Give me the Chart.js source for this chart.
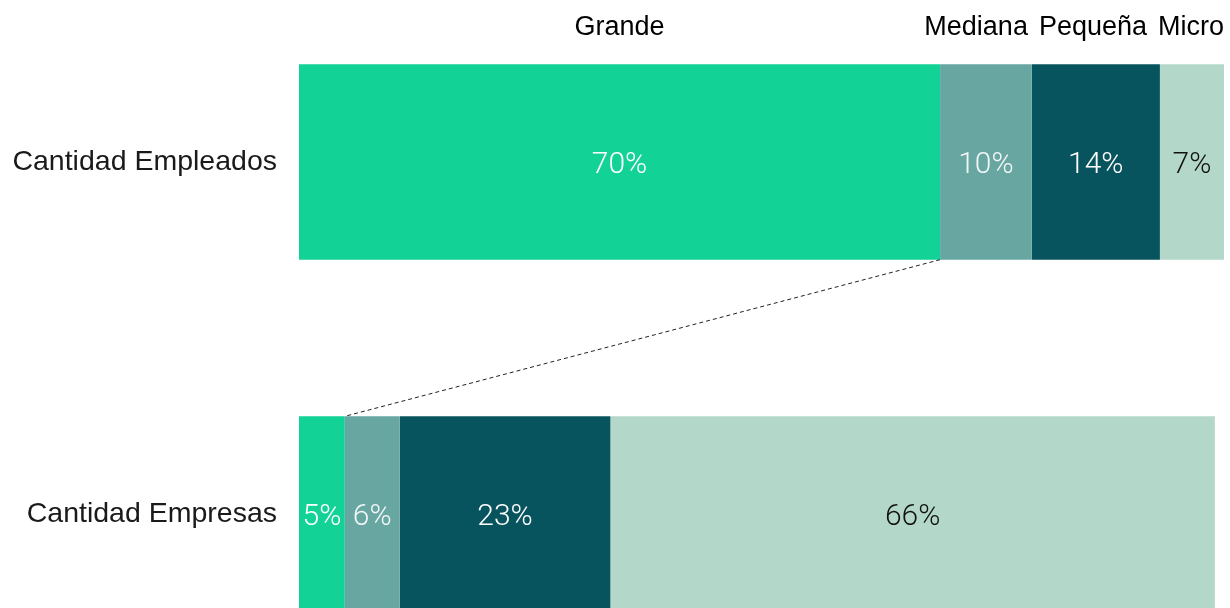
<!DOCTYPE html>
<html>
<head>
<meta charset="utf-8">
<script src="https://cdn.jsdelivr.net/npm/chart.js@4"></script>
<style>
    body { margin: 0; background: #fff; overflow: hidden; }
    #wrap { position: absolute; left: 0; top: -14px; width: 1230px; height: 704px; }
</style>
</head>
<body>
<div id="wrap"><canvas id="mainChartCanvas"></canvas></div>
<script>
// categories and series
const categorias = ['Cantidad Empleados', 'Cantidad Empresas'];
const grande = [70, 5];
const mediana = [10, 6];
const pequena = [14, 23];
const micro = [7, 66];

const nombres = ['Grande', 'Mediana', 'Pequeña', 'Micro'];
const colores = ['#13d296', '#68a6a2', '#08545e', '#b3d8ca'];
const coloresTexto = ['#ffffff', '#f2f6f6', '#ffffff', '#111111'];

// max of the stacked totals, so the longest bar fills the width
const totales = categorias.map((c, i) => grande[i] + mediana[i] + pequena[i] + micro[i]);
const maxTotal = Math.max(...totales);

const series = [grande, mediana, pequena, micro];

const mainChartData = {
    labels: categorias,
    datasets: series.map((s, i) => ({
        label: nombres[i],
        data: s,
        backgroundColor: colores[i],
        borderWidth: 0,
        barPercentage: 0.555,
        categoryPercentage: 1
    }))
};

// percentage text inside each segment
const segmentLabels = {
    id: 'segmentLabels',
    afterDatasetsDraw(chart) {
        const ctx = chart.ctx;
        ctx.save();
        ctx.font = '300 30px Roboto, "Liberation Sans", sans-serif';
        ctx.textAlign = 'center';
        ctx.textBaseline = 'middle';
        chart.data.datasets.forEach((ds, i) => {
            chart.getDatasetMeta(i).data.forEach((bar, j) => {
                const cx = (bar.x + bar.base) / 2;
                ctx.fillStyle = coloresTexto[i];
                ctx.fillText(ds.data[j] + '%', cx, bar.y + 3);
            });
        });
        ctx.restore();
    }
};

// series names above the first bar, pushed apart so they do not overlap
const topNames = {
    id: 'topNames',
    afterDraw(chart) {
        const ctx = chart.ctx;
        ctx.save();
        ctx.font = '27px "Liberation Sans", Arial, sans-serif';
        ctx.fillStyle = '#000';
        ctx.textAlign = 'left';
        ctx.textBaseline = 'middle';
        const gap = 11;
        const items = chart.data.datasets.map((ds, i) => {
            const bar = chart.getDatasetMeta(i).data[0];
            const w = ctx.measureText(ds.label).width;
            return { text: ds.label, w: w, x: (bar.x + bar.base) / 2 - w / 2 };
        });
        let limit = chart.chartArea.right;
        for (let k = items.length - 1; k >= 0; k--) {
            if (items[k].x + items[k].w > limit) items[k].x = limit - items[k].w;
            limit = items[k].x - gap;
        }
        items.forEach(it => ctx.fillText(it.text, it.x, 42));
        ctx.restore();
    }
};

// dashed line joining the "Grande" segment of both bars
const connector = {
    id: 'connector',
    afterDatasetsDraw(chart) {
        const meta = chart.getDatasetMeta(0);
        const a = meta.data[0];
        const b = meta.data[1];
        const ctx = chart.ctx;
        ctx.save();
        ctx.strokeStyle = '#222';
        ctx.lineWidth = 1;
        ctx.setLineDash([4, 3]);
        ctx.beginPath();
        ctx.moveTo(a.x, a.y + a.height / 2);
        ctx.lineTo(b.x, b.y - b.height / 2);
        ctx.stroke();
        ctx.restore();
    }
};

const mainChartConfig = {
    type: 'bar',
    data: mainChartData,
    options: {
        indexAxis: 'y',
        responsive: true,
        maintainAspectRatio: false,
        animation: false,
        layout: { padding: { left: 0, right: 6, top: 0, bottom: 0 } },
        scales: {
            x: {
                stacked: true,
                display: false,
                min: 0,
                max: maxTotal
            },
            y: {
                stacked: true,
                grid: { display: false },
                border: { display: false },
                ticks: {
                    color: '#1a1a1a',
                    padding: 14,
                    font: { family: '"Liberation Sans", Arial, sans-serif', size: 28.5 }
                },
                afterFit(scale) {
                    scale.width = 299;
                    // no extra room above / below the bands
                    scale.paddingTop = 0;
                    scale.paddingBottom = 0;
                }
            }
        },
        plugins: {
            legend: { display: false },
            tooltip: { enabled: false }
        }
    },
    plugins: [connector, segmentLabels, topNames]
};

const mainChart = new Chart(
    document.getElementById('mainChartCanvas').getContext('2d'),
    mainChartConfig
);
</script>
</body>
</html>
